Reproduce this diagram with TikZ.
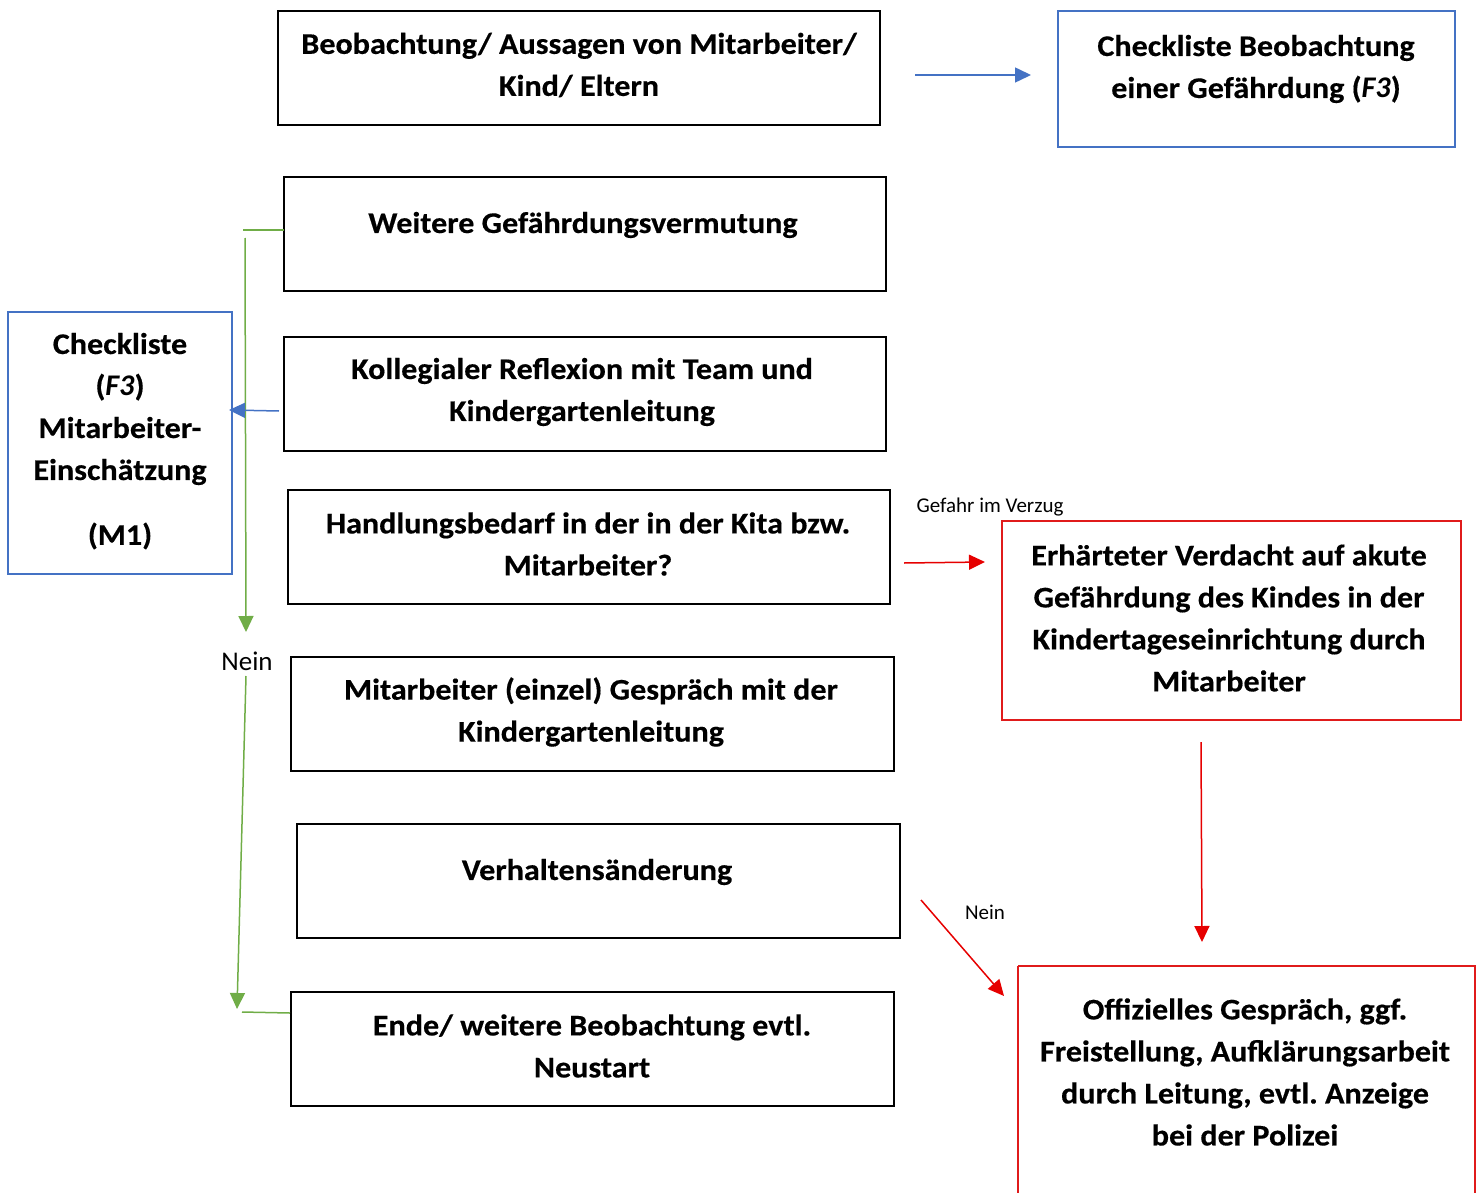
\documentclass[tikz,border=0pt]{standalone}
\usepackage{fontspec}
\setmainfont{Carlito}[BoldFeatures={FakeStretch=1.07,FakeBold=0.4}]
\usetikzlibrary{arrows.meta}
\definecolor{oblue}{HTML}{4472C4}
\definecolor{ogreen}{HTML}{70AD47}
\definecolor{ored}{HTML}{E01B1B}
\definecolor{ared}{HTML}{E60000}
\begin{document}
\begin{tikzpicture}[x=1pt,y=-1pt,
  boxb/.style={draw=black,line width=2.6pt},
  boxblue/.style={draw=oblue,line width=2.2pt},
  boxred/.style={draw=ored,line width=2.4pt},
  txt/.style={font=\fontsize{30}{42}\selectfont\bfseries,align=center,inner sep=0pt},
  small/.style={font=\fontsize{21}{24}\selectfont,inner sep=0pt},
  nein/.style={font=\fontsize{27}{30}\selectfont,inner sep=0pt},
  tip/.style={-{Triangle[length=16pt,width=15pt]}},
  barrow/.style={tip,draw=oblue,line width=1.5pt},
  garrow/.style={tip,draw=ogreen,line width=1.5pt},
  rarrow/.style={tip,draw=ared,line width=1.5pt},
  gline/.style={draw=ogreen,line width=1.5pt}]
\useasboundingbox (0,0) rectangle (1477,1193);
% boxes
\draw[boxb] (278,11) rectangle (880,125);
\draw[boxblue] (1058,11) rectangle (1455,147);
\draw[boxb] (284,177) rectangle (886,291);
\draw[boxb] (284,337) rectangle (886,451);
\draw[boxb] (288,490) rectangle (890,604);
\draw[boxb] (291,657) rectangle (894,771);
\draw[boxb] (297,824) rectangle (900,938);
\draw[boxb] (291,992) rectangle (894,1106);
\draw[boxblue] (8,312) rectangle (232,574);
\draw[boxred] (1002,521) rectangle (1461,720);
\draw[boxred] (1018,966) -- (1018,1200) (1018,966) -- (1475,966) -- (1475,1200);
% texts
\node[txt] (t1) at (579,65) {Beobachtung/ Aussagen von Mitarbeiter/\\Kind/ Eltern};
\node[txt] (t2) at (1256,69) {Checkliste Beobachtung\\einer Gefährdung (\textit{F3})};
\node[txt] (t3) at (583,225) {Weitere Gefährdungsvermutung};
\node[txt] (t4) at (582,392) {Kollegialer Reflexion mit Team und\\Kindergartenleitung};
\node[txt] (t5) at (588,544) {Handlungsbedarf in der in der Kita bzw.\\Mitarbeiter?};
\node[txt] (t6) at (591,712) {Mitarbeiter (einzel) Gespräch mit der\\Kindergartenleitung};
\node[txt] (t7) at (597,872) {Verhaltensänderung};
\node[txt] (t8) at (592,1046) {Ende/ weitere Beobachtung evtl.\\Neustart};
\node[txt] (tl) at (120,409) {Checkliste\\(\textit{F3})\\Mitarbeiter-\\Einschätzung};
\node[txt] (tm) at (120,536) {(M1)};
\node[txt] (tr1) at (1229,618) {Erhärteter Verdacht auf akute\\Gefährdung des Kindes in der\\Kindertageseinrichtung durch\\Mitarbeiter};
\node[txt] (tr2) at (1245,1072) {Offizielles Gespräch, ggf.\\Freistellung, Aufklärungsarbeit\\durch Leitung, evtl.\ Anzeige\\bei der Polizei};
\node[small] (gv) at (990,507) {Gefahr im Verzug};
\node[nein] (n1) at (247,661) {Nein};
\node[small] (n2) at (985,912) {Nein};
% connectors
\coordinate (a1s) at (915,75); \coordinate (a1e) at (1031,75);
\draw[barrow] (a1s) -- (a1e);
\coordinate (g0) at (284,230); \coordinate (g1) at (243,230);
\draw[gline] (g0) -- (g1);
\coordinate (g2) at (245,238); \coordinate (g3) at (246,632);
\draw[garrow] (g2) -- (g3);
\coordinate (g4) at (246,676); \coordinate (g5) at (237,1009);
\draw[garrow] (g4) -- (g5);
\coordinate (g6) at (242,1012); \coordinate (g7) at (290,1013);
\draw[gline] (g6) -- (g7);
\coordinate (b2s) at (279,411); \coordinate (b2e) at (229,410);
\draw[barrow] (b2s) -- (b2e);
\coordinate (r1s) at (904,563); \coordinate (r1e) at (985,562);
\draw[rarrow] (r1s) -- (r1e);
\coordinate (r2s) at (1201,742); \coordinate (r2e) at (1202,942);
\draw[rarrow] (r2s) -- (r2e);
\coordinate (r3s) at (921,900); \coordinate (r3e) at (1004,996);
\draw[rarrow] (r3s) -- (r3e);
\end{tikzpicture}
\end{document}
